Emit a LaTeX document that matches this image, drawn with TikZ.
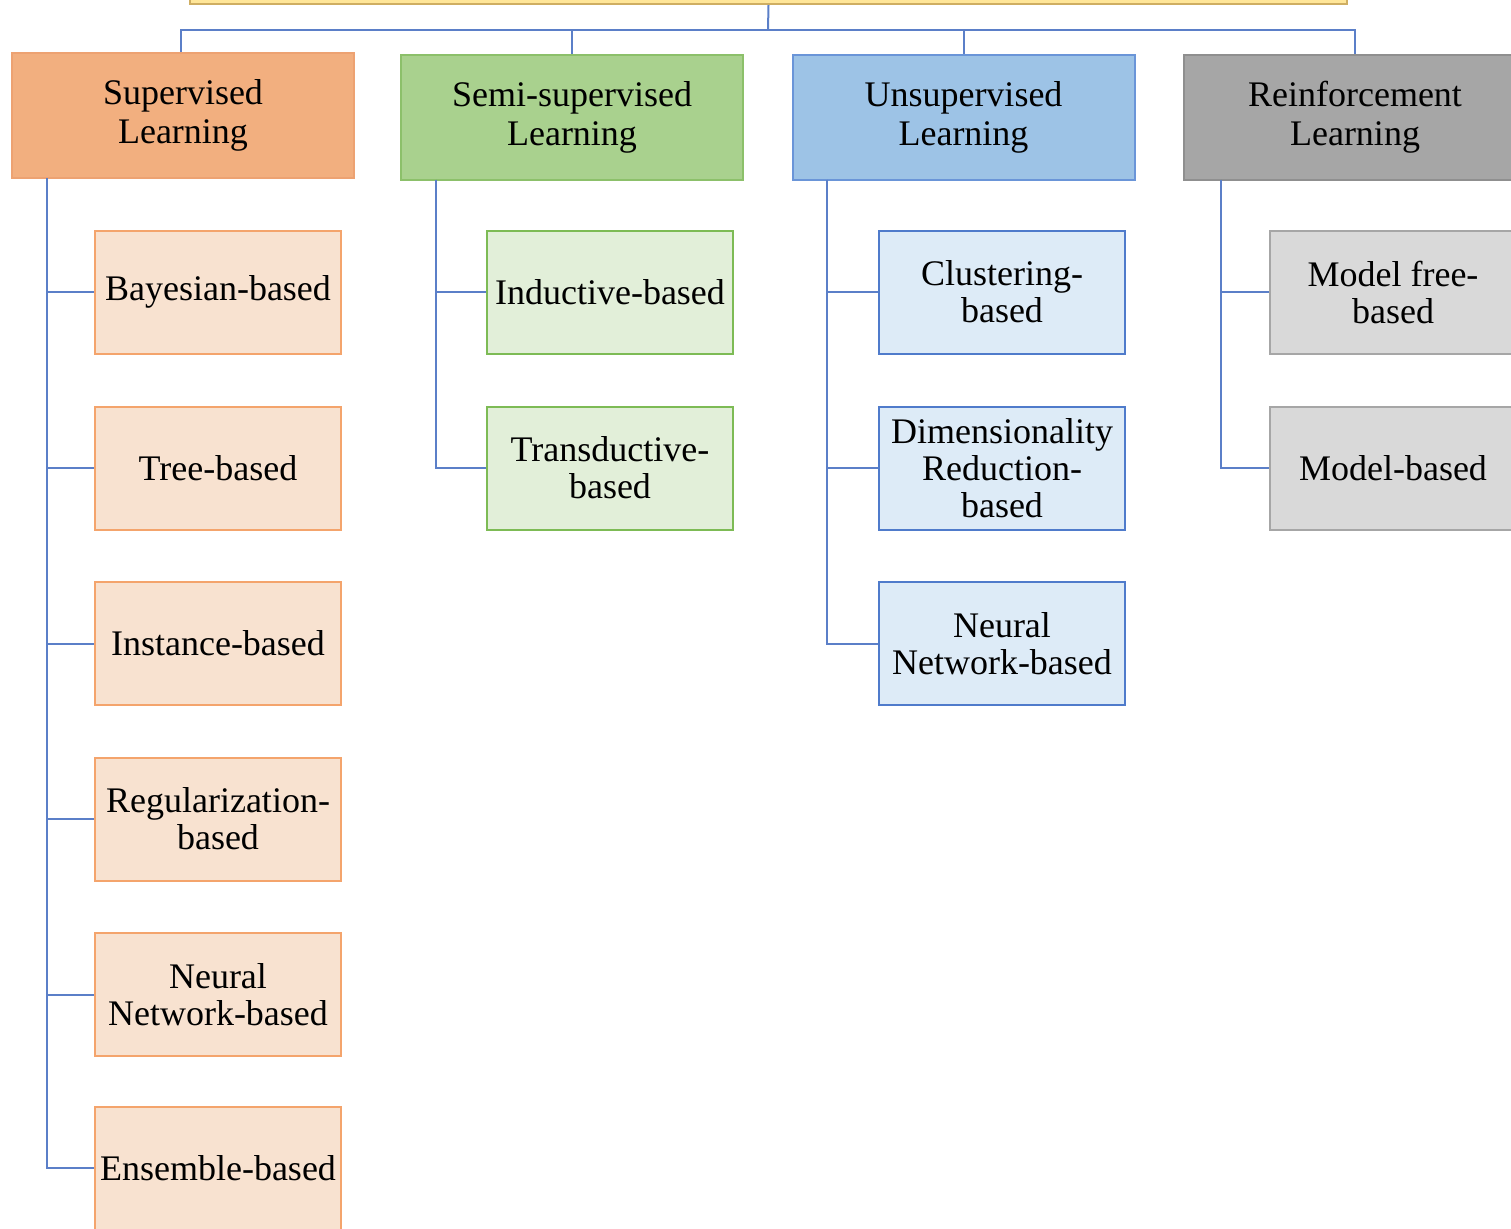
\documentclass[tikz,border=0pt]{standalone}
\usepackage{fontspec}
\setmainfont{Liberation Serif}
\definecolor{topfill}{HTML}{FFE699}
\definecolor{topdraw}{HTML}{CFAE62}
\definecolor{supfill}{HTML}{F2AF7F}
\definecolor{supdraw}{HTML}{EDA272}
\definecolor{supcfill}{HTML}{F8E2D0}
\definecolor{supcdraw}{HTML}{F4A46C}
\definecolor{semfill}{HTML}{A9D18E}
\definecolor{semdraw}{HTML}{8CC06A}
\definecolor{semcfill}{HTML}{E2EFD9}
\definecolor{semcdraw}{HTML}{7DBB55}
\definecolor{unsfill}{HTML}{9DC3E6}
\definecolor{unsdraw}{HTML}{6A95D8}
\definecolor{unscfill}{HTML}{DDEBF7}
\definecolor{unscdraw}{HTML}{4F7BCB}
\definecolor{reifill}{HTML}{A6A6A6}
\definecolor{reidraw}{HTML}{8F8F8F}
\definecolor{reicfill}{HTML}{D9D9D9}
\definecolor{reicdraw}{HTML}{A6A6A6}
\definecolor{conncol}{HTML}{5B7FC8}
\tikzset{
  header/.style={rectangle, inner sep=0pt, minimum width=171pt, minimum height=62.5pt, align=center, line width=1pt, font=\fontsize{18}{19.5}\selectfont},
  child/.style={rectangle, inner sep=0pt, minimum width=123pt, minimum height=61.5pt, align=center, line width=1pt, font=\fontsize{18}{18.5}\selectfont},
  conn/.style={draw=conncol, line width=1pt},
}
\begin{document}
\begin{tikzpicture}[x=0.5pt,y=-0.5pt]
\useasboundingbox (0,0) rectangle (1511,1228);
\begin{scope}
\clip (0,0) rectangle (1511,1228);
% top box
\node[rectangle, draw=topdraw, fill=topfill, line width=1pt, inner sep=0pt, minimum width=578.5pt, minimum height=20pt] (top) at (768.5,-16) {};
% headers
\node[header, fill=supfill, draw=supdraw] (sup) at (183,115.5) {Supervised\\Learning};
\node[header, fill=semfill, draw=semdraw] (sem) at (572,117) {Semi-supervised\\Learning};
\node[header, fill=unsfill, draw=unsdraw] (uns) at (963.5,117) {Unsupervised\\Learning};
\node[header, fill=reifill, draw=reidraw] (rei) at (1355,117) {Reinforcement\\Learning};
% supervised children
\node[child, fill=supcfill, draw=supcdraw] (s1) at (218,292) {Bayesian-based};
\node[child, fill=supcfill, draw=supcdraw] (s2) at (218,468) {Tree-based};
\node[child, fill=supcfill, draw=supcdraw] (s3) at (218,643.5) {Instance-based};
\node[child, fill=supcfill, draw=supcdraw] (s4) at (218,819) {Regularization-\\based};
\node[child, fill=supcfill, draw=supcdraw] (s5) at (218,994.5) {Neural\\Network-based};
\node[child, fill=supcfill, draw=supcdraw] (s6) at (218,1168) {Ensemble-based};
% semi-supervised children
\node[child, fill=semcfill, draw=semcdraw] (m1) at (610,292) {Inductive-based};
\node[child, fill=semcfill, draw=semcdraw] (m2) at (610,468) {Transductive-\\based};
% unsupervised children
\node[child, fill=unscfill, draw=unscdraw] (u1) at (1002,292) {Clustering-\\based};
\node[child, fill=unscfill, draw=unscdraw] (u2) at (1002,468) {Dimensionality\\Reduction-\\based};
\node[child, fill=unscfill, draw=unscdraw] (u3) at (1002,643.5) {Neural\\Network-based};
% reinforcement children
\node[child, fill=reicfill, draw=reicdraw] (r1) at (1393,292) {Model free-\\based};
\node[child, fill=reicfill, draw=reicdraw] (r2) at (1393,468) {Model-based};
% connectors from top
\coordinate (bus) at (768,30);
\draw[conn] (top.south) -- (bus);
\draw[conn] (bus) -| ([xshift=-1pt]sup.north);
\foreach \h in {sem,uns,rei} \draw[conn] (bus) -| (\h.north);
% trunks
\coordinate (st) at (47,178);
\coordinate (mt) at (436,179.5);
\coordinate (ut) at (827,179.5);
\coordinate (rt) at (1221,179.5);
\foreach \c in {s1,s2,s3,s4,s5,s6} \draw[conn] (st) |- (\c.west);
\foreach \c in {m1,m2} \draw[conn] (mt) |- (\c.west);
\foreach \c in {u1,u2,u3} \draw[conn] (ut) |- (\c.west);
\foreach \c in {r1,r2} \draw[conn] (rt) |- (\c.west);
\end{scope}
\end{tikzpicture}
\end{document}
